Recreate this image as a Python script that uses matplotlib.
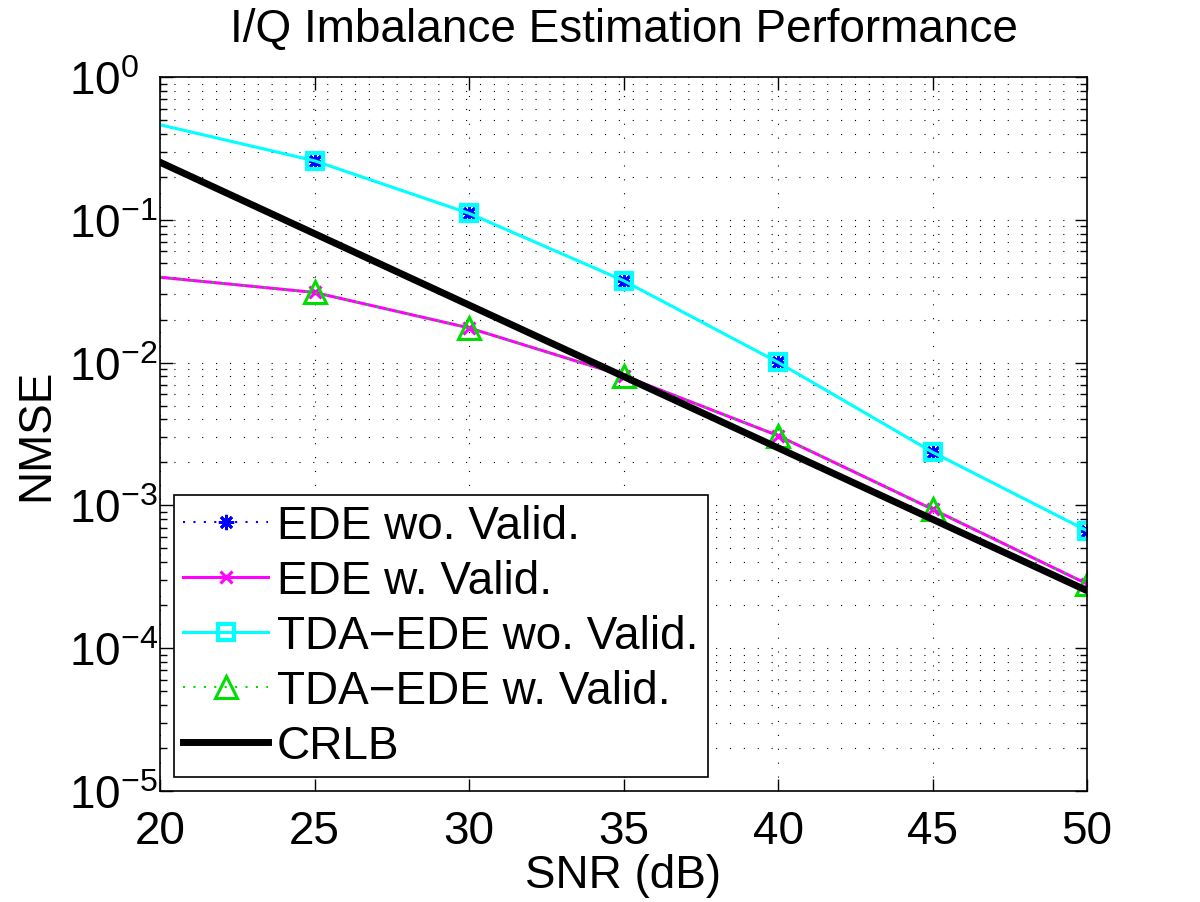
import numpy as np
import matplotlib
matplotlib.use("Agg")
import matplotlib.pyplot as plt
from matplotlib.ticker import LogLocator, FixedLocator, NullFormatter

plt.rcParams['font.family'] = ['Liberation Sans', 'DejaVu Sans']
plt.rcParams['mathtext.fontset'] = 'custom'
plt.rcParams['mathtext.rm'] = 'Liberation Sans'
plt.rcParams['mathtext.it'] = 'Liberation Sans'
plt.rcParams['mathtext.default'] = 'regular'

snr = [20, 25, 30, 35, 40, 45, 50]
ede_wo = [0.463, 0.259, 0.111, 0.0375, 0.01005, 0.00236, 0.000665]
ede_w = [0.0396, 0.0310, 0.0175, 0.0081, 0.00308, 0.00094, 0.000282]
tda_wo = [0.463, 0.259, 0.111, 0.0375, 0.01005, 0.00236, 0.000665]
tda_w = [0.0396, 0.0310, 0.0175, 0.0081, 0.00308, 0.00094, 0.000282]
crlb = [0.253, 0.080, 0.0253, 0.0080, 0.00253, 0.00080, 0.000253]

labels = ['EDE wo. Valid.', 'EDE w. Valid.', 'TDA\u2212EDE wo. Valid.',
          'TDA\u2212EDE w. Valid.', 'CRLB']
xticks = [20, 25, 30, 35, 40, 45, 50]

FS = 33
fig = plt.figure(figsize=(12, 9.03), dpi=100)
ax = fig.add_axes([160/1200, 1-792/903, 927/1200, 714/903])

me = slice(1, None)
ax.plot(snr, ede_wo, color='#0000ff', linestyle=(0, (1, 4)), lw=1.5,
        marker=(8, 2, 0), markersize=11, mew=2, markevery=me, label=labels[0])
ax.plot(snr, ede_w, color='#ff00ff', linestyle='-', lw=2.2,
        marker='x', markersize=9, mew=2.2, markevery=me, label=labels[1])
ax.plot(snr, tda_wo, color='#00ffff', linestyle='-', lw=2.2,
        marker='s', markersize=12, mew=3, mfc='none', markevery=me, label=labels[2])
ax.plot(snr, tda_w, color='#00dd00', linestyle=(0, (1, 4)), lw=1.5,
        marker='^', markersize=16, mew=2.2, mfc='none', markevery=me, label=labels[3])
ax.plot(snr, crlb, color='black', linestyle='-', lw=5, label=labels[4])

ax.set_yscale('log')
ax.set_xlim(20, 50)
ax.set_ylim(1e-5, 1)
ax.xaxis.set_major_locator(FixedLocator(xticks))
ax.yaxis.set_major_locator(LogLocator(base=10, numticks=10))
ax.yaxis.set_minor_locator(LogLocator(base=10, subs=np.arange(2, 10), numticks=20))
ax.yaxis.set_minor_formatter(NullFormatter())

grid_ls = (0, (1, 11.5))
ax.grid(True, which='major', axis='both', color='black', lw=0.8, linestyle=grid_ls)
ax.grid(True, which='minor', axis='y', color='black', lw=0.8, linestyle=grid_ls)
ax.set_axisbelow(True)

ax.tick_params(which='both', direction='in', top=True, right=True, width=1.0,
               labelsize=FS, color='black')
ax.tick_params(which='major', length=9)
ax.tick_params(which='minor', length=5)
ax.tick_params(axis='x', pad=13)
ax.tick_params(axis='y', pad=65.5)
for lab in ax.get_yticklabels():
    lab.set_horizontalalignment('left')
for s in ax.spines.values():
    s.set_linewidth(1.2)

ax.set_title('I/Q Imbalance Estimation Performance', fontsize=FS, pad=26)
ax.set_xlabel('SNR (dB)', fontsize=FS, labelpad=0)
ax.set_ylabel('NMSE', fontsize=FS, labelpad=8)

leg = ax.legend(loc='lower left', bbox_to_anchor=(0.0151, 0.0196), fontsize=FS,
                frameon=True, fancybox=False, framealpha=1, edgecolor='black',
                borderpad=0.2, labelspacing=0.24, handlelength=1.85,
                handletextpad=0.2, borderaxespad=0)
leg.get_frame().set_linewidth(1.2)

fig.savefig('out.png', dpi=100)
